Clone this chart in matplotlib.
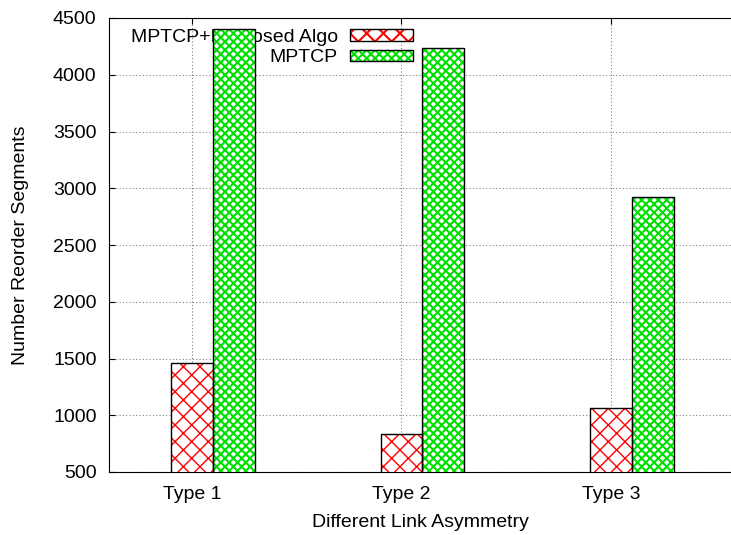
import numpy as np
import matplotlib
matplotlib.use("Agg")
import matplotlib.pyplot as plt
from matplotlib.patches import Patch

# data
categories = ["Type 1", "Type 2", "Type 3"]
proposed = [1460, 835, 1060]
mptcp = [4400, 4235, 2920]
series_names = ["MPTCP+Proposed Algo", "MPTCP"]

plt.rcParams['font.family'] = ['Liberation Sans', 'DejaVu Sans']
plt.rcParams['font.size'] = 14

fig = plt.figure(figsize=(7.31, 5.35), dpi=100)
W, H = 731, 535
ax = fig.add_axes([109 / W, 1 - 472 / H, (731 - 109) / W, (472 - 18) / H])

x = np.arange(len(categories))
w = 0.2

# red cross hatch
plt.rcParams['hatch.linewidth'] = 1.0
ax.bar(x, proposed, w, color='white', edgecolor='#ff0000', hatch='xx',
       linewidth=0, zorder=3)
ax.bar(x, proposed, w, fill=False, edgecolor='black', linewidth=1.0, zorder=4)

# dense green hatch
plt.rcParams['hatch.linewidth'] = 1.5
ax.bar(x + w, mptcp, w, color='white', edgecolor='#00e000', hatch='xxxx',
       linewidth=0, zorder=3)
ax.bar(x + w, mptcp, w, fill=False, edgecolor='black', linewidth=1.0, zorder=4)

ax.set_xlim(-0.396, 2.573)
ax.set_ylim(500, 4500)
ax.set_yticks(np.arange(500, 4501, 500))
ax.set_xticks(x)
ax.set_xticklabels(categories)
ax.tick_params(direction='in', length=4, top=True, right=False)
ax.tick_params(axis='y', pad=9)
ax.tick_params(axis='x', pad=10)
ax.spines['right'].set_visible(False)

ax.set_axisbelow(True)
ax.grid(True, color='gray', linestyle=(0, (1, 2)), linewidth=0.8)

ax.set_xlabel("Different Link Asymmetry", labelpad=8)
ax.set_ylabel("Number Reorder Segments", labelpad=17)

plt.rcParams['hatch.linewidth'] = 1.0
h1 = (Patch(facecolor='white', edgecolor='#ff0000', hatch='xx', linewidth=0),
      Patch(fill=False, edgecolor='black', linewidth=1.0))
plt.rcParams['hatch.linewidth'] = 1.5
h2 = (Patch(facecolor='white', edgecolor='#00e000', hatch='xxxx', linewidth=0),
      Patch(fill=False, edgecolor='black', linewidth=1.0))

leg = ax.legend([h1, h2], series_names, loc='upper right',
                bbox_to_anchor=(413 / W, 1 - 29 / H),
                bbox_transform=fig.transFigure, frameon=False,
                markerfirst=False, borderpad=0, borderaxespad=0,
                handlelength=3.25, handleheight=0.52, handletextpad=0.62,
                labelspacing=0.18)
leg.set_zorder(1)

fig.savefig("out.png", dpi=100)
